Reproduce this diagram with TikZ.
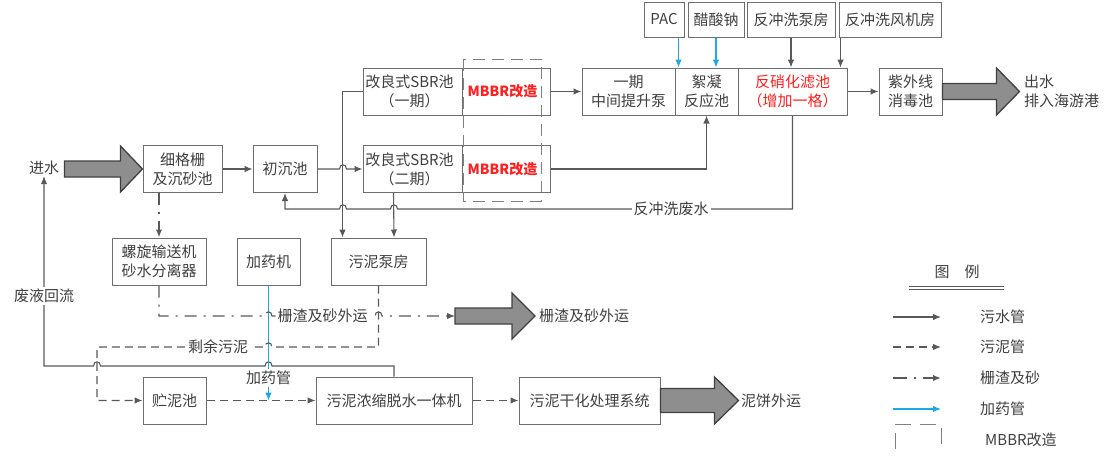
\documentclass[tikz,border=0pt]{standalone}
\usepackage{fontspec}
\usepackage{tikz}
\newfontfamily\cjk{Noto Sans CJK SC}
\usetikzlibrary{arrows.meta}
\usetikzlibrary{calc}
\usetikzlibrary{positioning}
\definecolor{linegray}{HTML}{595959}
\definecolor{boxgray}{HTML}{6E6E6E}
\definecolor{txtgray}{HTML}{3F3F3F}
\definecolor{doseblue}{HTML}{1BA9E8}
\definecolor{mbbrred}{HTML}{FF1F1F}
\definecolor{fatfill}{HTML}{8E8E8E}
\definecolor{fatedge}{HTML}{404040}
\tikzstyle{block} = [draw=boxgray, line width=1pt, text=txtgray, minimum height=47pt, inner sep=0pt, align=center, font=\cjk\fontsize{15}{19}\selectfont]
\tikzstyle{txt} = [text=txtgray, inner sep=1pt, align=center, font=\cjk\fontsize{15}{19}\selectfont]
\tikzstyle{onwire} = [txt, fill=white, inner sep=2pt]
\tikzstyle{water} = [draw=linegray, line width=1.1pt, -{Latex[length=8pt,width=6.5pt]}]
\tikzstyle{sludge} = [water, dash pattern=on 8pt off 5pt]
\tikzstyle{grit} = [water, dash pattern=on 12pt off 7pt on 2pt off 7pt]
\tikzstyle{dose} = [water, draw=doseblue]
\tikzstyle{fat} = [draw=fatedge, fill=fatfill, line width=1.3pt, line join=miter]
\tikzstyle{mbbr} = [draw=gray, line width=0.9pt, dash pattern=on 12pt off 7pt]
% line hops over crossing pipes
\newcommand{\hopr}[2]{-- ({#1-3.5},#2) .. controls ({#1-3.5},{#2-5.5}) and ({#1+3.5},{#2-5.5}) .. ({#1+3.5},#2)}
\newcommand{\hopl}[2]{-- ({#1+3.5},#2) .. controls ({#1+3.5},{#2-5.5}) and ({#1-3.5},{#2-5.5}) .. ({#1-3.5},#2)}

\begin{document}
\begin{tikzpicture}[x=1pt, y=-1pt]
  \useasboundingbox (0,0) rectangle (1107,455);

  % water line
  \node [txt] (jinshui) at (44,168) {进水};
  \node [block, minimum width=79pt] (xishage) at (182.5,169) {细格栅\\及沉砂池};
  \node [block, minimum width=64pt] (chuchen) at (285,169) {初沉池};
  \node [block, minimum width=187pt] (sbr1) at (456.5,91.5) {};
  \node [block, minimum width=187pt] (sbr2) at (456.5,169) {};
  \node [block, minimum width=93pt] (pump) at (628.5,91.5) {一期\\中间提升泵};
  \node [block, minimum width=63pt] (xuning) at (706.5,91.5) {絮凝\\反应池};
  \node [block, minimum width=109pt, text=mbbrred] (fanxiao) at (792.5,91.5) {反硝化滤池\\（增加一格）};
  \node [block, minimum width=63pt] (uv) at (910.5,91.5) {紫外线\\消毒池};
  \node [txt, anchor=west, align=left] (chushui) at (1023,91.5) {出水\\排入海游港};

  \node [block, minimum width=40pt, minimum height=35pt] (pac) at (664,19.5) {PAC};
  \node [block, minimum width=56pt, minimum height=35pt] (cusuan) at (716,19.5) {醋酸钠};
  \node [block, minimum width=88pt, minimum height=35pt] (bengfang) at (791,19.5) {反冲洗泵房};
  \node [block, minimum width=102pt, minimum height=35pt] (fengji) at (890,19.5) {反冲洗风机房};

  % SBR tanks and MBBR part
  \draw [boxgray, line width=1pt] ([xshift=100pt]sbr1.north west) -- ([xshift=100pt]sbr1.south west);
  \draw [boxgray, line width=1pt] ([xshift=100pt]sbr2.north west) -- ([xshift=100pt]sbr2.south west);
  \node [txt] at ([xshift=47pt]sbr1.west) {改良式SBR池\\（一期）};
  \node [txt] at ([xshift=47pt]sbr2.west) {改良式SBR池\\（二期）};
  \node [txt, text=mbbrred, font=\cjk\bfseries\fontsize{14}{18}\selectfont] at ([xshift=140pt]sbr1.west) {MBBR改造};
  \node [txt, text=mbbrred, font=\cjk\bfseries\fontsize{14}{18}\selectfont] at ([xshift=140pt]sbr2.west) {MBBR改造};
  \draw [mbbr] (463,59) rectangle (541,201);

  % sludge and grit side
  \node [block, minimum width=94pt] (luoxuan) at (159,261.5) {螺旋输送机\\砂水分离器};
  \node [block, minimum width=63pt] (jiayao) at (268.5,261.5) {加药机};
  \node [block, minimum width=95pt] (wunibeng) at (378.5,261.5) {污泥泵房};
  \node [block, minimum width=63pt] (zhuni) at (174.5,400.5) {贮泥池};
  \node [block, minimum width=156pt] (nongsuo) at (394,400.5) {污泥浓缩脱水一体机};
  \node [block, minimum width=141pt] (ganhua) at (589.5,400.5) {污泥干化处理系统};
  \coordinate (zhazha) at (455,316);
  \node [txt, anchor=west] (zhazhaout) at (538,316) {栅渣及砂外运};
  \node [txt, anchor=west] (nibing) at (740,401) {泥饼外运};

  % fat arrows
  \draw [fat] (xishage.west) -- ++(-22,-23) -- ++(0,15) -- ++(-56,0) -- ++(0,16) -- ++(56,0) -- ++(0,15) -- cycle;
  \draw [fat] (uv.east) ++(0,-8) -- ++(54,0) -- ++(0,-15.5) -- ++(23,23.5) -- ++(-23,23.5) -- ++(0,-15.5) -- ++(-54,0) -- cycle;
  \draw [fat] (zhazha) ++(0,-8) -- ++(57,0) -- ++(0,-15) -- ++(23,23) -- ++(-23,23) -- ++(0,-15) -- ++(-57,0) -- cycle;
  \draw [fat] (ganhua.east) ++(0,-12) -- ++(54,0) -- ++(0,-11.5) -- ++(24,23.5) -- ++(-24,23.5) -- ++(0,-11.5) -- ++(-54,0) -- cycle;

  % sewage pipes
  \draw [water] (xishage.east) -- (chuchen.west);
  \draw [water] (chuchen.east) \hopr{343}{169} -- (sbr2.west);
  \draw [water] (sbr1.east) -- (pump.west);
  \draw [water] (sbr2.east) -| (xuning.south);
  \draw [water] (fanxiao.east) -- (uv.west);
  \draw [water] (bengfang.south) -- (bengfang.south |- fanxiao.north);
  \draw [water] ([xshift=2pt]fengji.south west) -- ([xshift=2pt]fengji.south west |- fanxiao.north);
  \draw [water] (fanxiao.south) -- (792.5,209) \hopl{394}{209} \hopl{343}{209} -- (285,209) -- (chuchen.south);
  \draw [water] (sbr1.west) -| ([xshift=12pt]wunibeng.north west);
  \draw [water] ([xshift=31pt]sbr2.south west) -- ([xshift=15.5pt]wunibeng.north);
  \draw [water] (nongsuo.north) -- (394,366) \hopl{268.5}{366} \hopl{97}{366} -- (44,366) -- (jinshui.south);
  \node [onwire] at (671,209) {反冲洗废水};
  \node [onwire] at (44,296) {废液回流};

  % dosing pipes
  \draw [dose] ([xshift=-6pt]pac.south east) -- ([xshift=-6pt]pac.south east |- xuning.north);
  \draw [dose] (cusuan.south) -- (cusuan.south |- xuning.north);
  \draw [dose] (jiayao.south) -- (jiayao.south |- zhuni.east);
  \node [onwire] at (268.5,378) {加药管};

  % grit and sludge pipes
  \draw [grit, line width=2.8pt] (luoxuan.north |- xishage.south) -- (luoxuan.north);
  \draw [grit] (luoxuan.south) -- (159,316) \hopr{268.5}{316} \hopr{378.5}{316} -- (zhazha);
  \node [onwire] at (322.5,316) {栅渣及砂外运};
  \draw [sludge] (wunibeng.south) -- (378.5,347) \hopl{268.5}{347} -- (97,347) -- (97,400.5) -- (zhuni.west);
  \node [onwire] at (218,347) {剩余污泥};
  \draw [sludge] (zhuni.east) -- (nongsuo.west);
  \draw [sludge] (nongsuo.east) -- (ganhua.west);

  % legend
  \node [txt] (tuli) at (957,272) {图\quad 例};
  \draw [linegray, line width=0.8pt] (909,286) -- (1004,286) (909,289.5) -- (1004,289.5);
  \coordinate (l1a) at (893,317); \coordinate (l1b) at (941,317);
  \coordinate (l2a) at (893,347); \coordinate (l2b) at (941,347);
  \coordinate (l3a) at (893,378); \coordinate (l3b) at (941,378);
  \coordinate (l4a) at (893,409); \coordinate (l4b) at (941,409);
  \draw [water] (l1a) -- (l1b);
  \draw [sludge] (l2a) -- (l2b);
  \draw [grit, line width=2.8pt, dash pattern=on 14pt off 7pt on 2pt off 7pt] (l3a) -- (l3b);
  \draw [dose] (l4a) -- (l4b);
  \draw [mbbr, dash pattern=on 16pt off 9pt] (895,449) -- (895,424) -- (941,424) -- (941,449);
  \node [txt, anchor=west] at (979,317) {污水管};
  \node [txt, anchor=west] at (979,347) {污泥管};
  \node [txt, anchor=west] at (979,378) {栅渣及砂};
  \node [txt, anchor=west] at (979,409) {加药管};
  \node [txt, anchor=west] at (984,440) {MBBR改造};
\end{tikzpicture}
\end{document}
